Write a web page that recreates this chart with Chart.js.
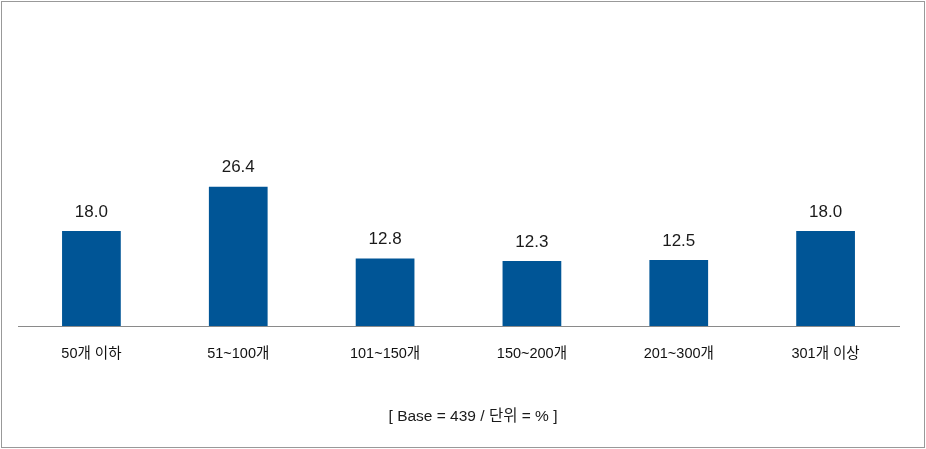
<!DOCTYPE html>
<html>
<head>
<meta charset="utf-8">
<script src="https://cdn.jsdelivr.net/npm/chart.js@4"></script>
<style>
  html, body { margin: 0; padding: 0; background: #fff; }
  #wrap { position: relative; width: 926px; height: 449px; }
  #frame { position: absolute; left: 1px; top: 1px; width: 922px; height: 445px; border: 1px solid #999; pointer-events: none; }
  canvas { position: absolute; left: 0; top: 0; }
</style>
</head>
<body>
<div id="wrap">
  <canvas id="grafica" width="926" height="449"></canvas>
  <div id="frame"></div>
</div>
<script>
var categorias = ["50개 이하", "51~100개", "101~150개", "150~200개", "201~300개", "301개 이상"];
var valores = [18.0, 26.4, 12.8, 12.3, 12.5, 18.0];
var notaBase = "[ Base = 439 / 단위 = % ]";

var fuente = "'Liberation Sans', Arial, 'Noto Sans CJK KR', sans-serif";

// etiquetas de valor encima de cada barra
var etiquetasValor = {
  id: "etiquetasValor",
  afterDatasetsDraw: function (chart) {
    var ctx = chart.ctx;
    var meta = chart.getDatasetMeta(0);
    ctx.save();
    ctx.font = "17px " + fuente;
    ctx.fillStyle = "#1a1a1a";
    ctx.textAlign = "center";
    ctx.textBaseline = "middle";
    meta.data.forEach(function (bar, i) {
      ctx.fillText(valores[i].toFixed(1), bar.x, bar.y - 19);
    });
    ctx.restore();
  }
};

// nota inferior
var nota = {
  id: "nota",
  afterDraw: function (chart) {
    var ctx = chart.ctx;
    ctx.save();
    ctx.font = "15.5px " + fuente;
    ctx.fillStyle = "#1a1a1a";
    ctx.textAlign = "center";
    ctx.textBaseline = "middle";
    ctx.fillText(notaBase, 473, 417);
    ctx.restore();
  }
};

new Chart(document.getElementById("grafica").getContext("2d"), {
  type: "bar",
  data: {
    labels: categorias,
    datasets: [{
      data: valores,
      backgroundColor: "#005596",
      barPercentage: 0.4,
      categoryPercentage: 1.0
    }]
  },
  options: {
    responsive: false,
    animation: false,
    layout: { padding: { left: 18, right: 27, top: 115, bottom: 83 } },
    plugins: { legend: { display: false }, tooltip: { enabled: false } },
    scales: {
      x: {
        grid: { display: false },
        border: { display: true, color: "#8a8a8a", width: 1 },
        ticks: { color: "#111", font: { size: 14.5, family: fuente }, padding: 11 },
        afterFit: function (scale) { scale.height = 40; }
      },
      y: {
        display: false,
        min: 0,
        max: 40
      }
    }
  },
  plugins: [etiquetasValor, nota]
});
</script>
</body>
</html>
